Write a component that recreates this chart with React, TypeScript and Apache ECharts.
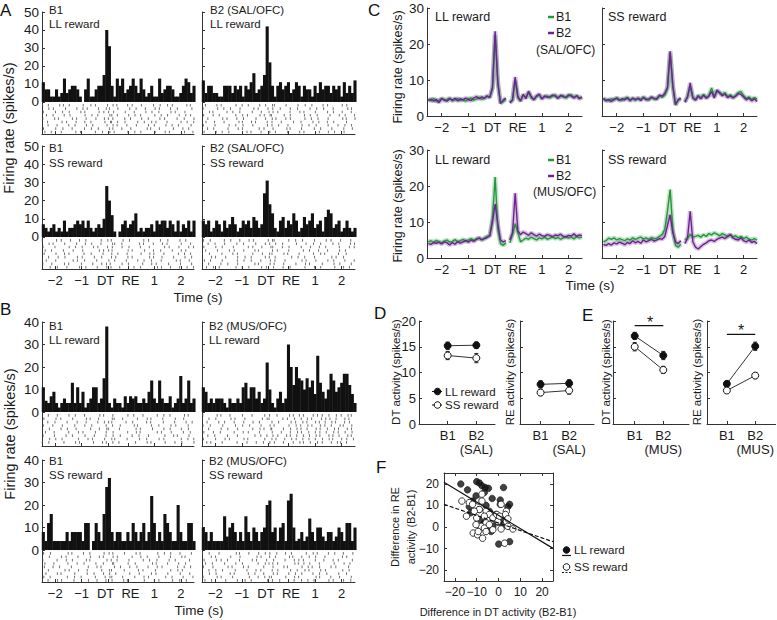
import React, { useEffect, useRef } from "react";
import * as echarts from "echarts";

const FONT = "'Liberation Sans', Arial, sans-serif";
const INK = "#1a1a1a";
const AXIS = "#333";
const GREEN = "#23963a";
const PURPLE = "#6a2390";

// ---- time axis (PSTH / population plots) ----
const timeTicks = [-2, -1, 0, 0.75, 1.75, 2.75];
const timeTickLabels = ["−2", "−1", "DT", "RE", "1", "2"];

// ---- histogram bins: 0.1 s, first bin centred at -2.45 ----
const histBinStart = -2.45;
const histBinWidth = 0.1;

const histA_B1_LL = [11,7,7,3,3,7,3,5,13,5,7,9,9,7,3,0,7,13,3,3,7,9,9,15,40,31,9,3,13,9,13,5,7,9,13,9,5,13,7,3,5,9,3,3,13,5,7,9,9,7,3,3,5,9,13,11,5,9];
const histA_B2_LL = [12,5,9,9,5,5,3,3,9,9,9,5,9,7,9,3,9,7,11,16,5,7,9,15,42,22,9,3,9,11,7,9,11,5,7,11,9,3,9,7,7,3,9,5,11,7,9,9,5,9,7,9,3,11,5,9,5,12];
const histA_B1_SS = [7,5,3,5,7,3,5,3,9,3,5,5,7,9,7,9,5,9,5,3,5,7,5,10,28,20,12,3,0,3,7,9,5,7,9,13,3,5,3,5,5,7,3,9,7,9,9,5,9,7,3,9,3,7,5,9,3,9];
const histA_B2_SS = [9,7,9,3,5,9,7,3,9,5,7,11,7,3,5,9,7,9,5,11,9,5,7,24,31,18,13,5,3,9,11,5,9,7,13,9,3,5,11,7,9,13,5,7,9,3,11,15,13,5,7,9,3,5,9,5,3,5];
const histB_B1_LL = [11,5,4,7,9,4,2,4,6,4,4,13,4,11,4,9,2,4,6,11,11,4,6,15,38,4,2,6,4,4,2,7,4,7,6,7,4,4,6,4,9,14,6,4,14,6,4,4,7,2,4,6,16,4,6,14,4,6];
const histB_B2_LL = [11,9,4,6,4,6,6,6,4,2,6,4,4,6,4,11,13,6,11,11,6,9,4,6,22,10,4,2,6,9,4,6,30,20,12,20,15,14,10,15,11,14,8,25,13,9,6,10,17,14,9,11,13,17,17,12,8,4];
const histB_B1_SS = [8,4,12,16,4,4,4,4,4,8,4,8,8,8,8,4,12,12,0,4,12,8,4,16,28,32,8,4,8,8,4,4,8,4,12,8,4,8,12,4,8,24,12,4,8,4,16,12,8,4,4,20,8,4,4,12,12,4];
const histB_B2_SS = [10,8,4,8,4,4,4,4,15,6,10,12,8,4,8,4,15,8,4,10,8,4,8,10,20,22,8,10,4,10,12,4,22,25,10,4,5,8,4,6,14,8,4,10,10,6,4,8,8,4,6,10,8,4,12,12,4,10];

// ---- rasters: one string per trial row, one char per 0.1 s bin starting at -2.5;
//      '.' = no spike, digit = spike offset inside the bin (hundredths of a second) ----
const rasterStart = -2.5;
const rasterA_B1_LL = [
  "2.4...7.1.3....6..5.2...8.9.3...4.1..6....2.7..5.3....8.1.",
  "..6.3...9....2.5.1...4..35..7....2.6...1..8.4...6..2....7.",
  "5....1.8..3...7.2....6.4.2.1...5..9....3.6..2...8.4...1..6",
  ".7..2...4.6.....3.9..1...74.5...8..2.3....7..1.5...9..4.2.",
  "3...8.2....5.1..7...4..6.18....3.5...7..2...6.4....1.8...5",
  "..1....6.3..9...2.5....8.93.6..4....2.7..5.1...3....6.9..4",
  "..3..7....1.5...8..2....6.9.4...1..7....3.5...9..2.6....4.",
  "6....2.9...4....1.7..3...58...2..6.....8.1..4....7...3.5..",
  ".1.5...3....8.6.....2.9..7.3....5..1.4....8...6.2....9...1",
];
const rasterA_B2_LL = [
  ".3...6.2....8..1.4...7.9..52...6....1.8..3...5.2....7.4..9",
  "4....9..2.7...3....5.1..8.6..4...2.9....6..1.7...3....8.2.",
  "..8.1....4.6..2...9...3..27.5....1..8.3...6....2.4..7...1.",
  "6...2.5.....7..3.1...8.4.61...9..2....5.7..3....1..6.8...3",
  "..2....8.4...1.6....3..9..48...5.2....7..1.6...4....9.2..5",
  ".5..7...3....9.2..6.1...5.3..8....4..2...7.9...1.5....3..6",
  "5...9.....2.7..4...1....6.3.8...3....6..2.9....4...1.7..2.",
  "..1.4....8...6.2.....5.3..7....9.1...4....2.6...8....3..5.",
  "8....3.6..1.....9.4...2..5.6....2...7.3.....1..5.8...4...6",
];
const rasterA_B1_SS = [
  "1....5.3..8...2.6.....4.9.2...7..1....5.3...8..6....2.4..7",
  "..7.2...6....1..4.8...3...75..2.....9.4...1..6.3....7...2.",
  "4...9.....3.7..2...5.1..8.6...3.9....2..6.....4.1..8...5.3",
  ".2.6....1..8...4.....7.3.25.....6.1...8...2.9....3..7.4...",
  "8....3..5.2....9..6....1..4.7...2....5..8.3...1....6.9..2.",
  "..5...1.7....4.2...8..6...39....5.1.....7.2..4...8....1.6.",
  ".6...2.....8.4..1...7....3.5...9....2.6..4...1....8.3..7..",
  "3..7....5.1...9....2..6.48....3.7.....1..5.2...9....4...6.",
  "...1.8...4....2.6...9...5.1..4....8..3.....7.2..6...1.9..3",
];
const rasterA_B2_SS = [
  "6..1....4.8...2..7.3....9.51....6..2.8....3...7.5...1..9..",
  "..3.9...5....1.6....2..8.4.7..3....5...1.9..6....2.4...8.3",
  "7....2.6...8.....4.1..5..96...2.7....3..8...1.5....6...4.2",
  ".4...8....3.1..7...9.2....5.3...6.....1.4..8...2...7.9....",
  "2.8....5...6.3.....1..7..43...8.2...5....9..6.1....3..2..7",
  "...6.1..9....4..2.5....8.3.5.....7..1.6...3.....8.4..2...9",
  "9..2...6.....3.8..5...1..7.4...2.....6.1..8....3.5...7...2",
  "..5....1.7...4.....9.2...6.1..7....3..9.4....2...6.8....1.",
  ".7..3.5.....8..1.6....4.2.9...5..1....7...3.6....9...2.4..",
];
const rasterB_B1_LL = [
  "..4..8....2.6...1....9.3..8.....5.7...2....6..1.4....9.3..",
  "7....3.1...6....8.2..4....63..5.....1..8.2...7....4..6....",
  "..2.9....5...3..7....1.6.24....8..3....6.1...9....2...5.8.",
  "5...1..7....4...2.8.....3.7..6....9.1....4..2...8.6....3..",
  "..8....2.6..9.....4..7..51...3.....6.2...8....1.5...7..4..",
  ".3..6.....1..8.5....2...3.9.....4..7.1.....6.2..9....5..1.",
  "4...7....1.5....3..8....2.9..6....1.7...3.....5..8.2...6..",
  "..9..2.6.....8...4.1...7..45....2...9..6....3.1.....7..2.4",
  "1.6.....3...7.2....5..9.3.8..1.....4...8.2....6...3.9....5",
];
const rasterB_B2_LL = [
  "3....7.1..5....2..8....6.4..2...9.3.6.1..8.4.2.7..5.3.9.1.",
  "..6..2....9.4...1.....7.52....4.1.8..3.6.2..9.5.1.4..7.2.6",
  ".9....3.5...1..7...2.6....3.8....5.2.9.4..7.1.3.8.2..6.4..",
  "4..1...8....6..3.9....2..6.1....7..4.1.8.3..5.2.6..9.1..3.",
  "..5....2.7...4.....1.8.3.92...6..3.7.2.5..9.4..1.8.3..6.2.",
  "7...3.9.....1..5.4...6....4..8...2.9.4..1.6.3.7..5.2.8..4.",
  "..2.8....6...3.....9..1.4.7.5..8.2.6..1.4.9.3..7.2.5..8.1.",
  "5....1..7.3....8.2.....6..38...1.7.4.9..2.6..3.8.1..5.4.9.",
  ".8.3...6.....2..9...4..1.5.2..6...3.8.1.7..4.2..6.9.1.3..7",
];
const rasterB_B1_SS = [
  "6..2.....9.3...7..1....5.48....2...6.1.....8..3.7...2...5.",
  "..8....4.1...6....3..7.2..9.5.....1..4.8....2...6...9.1...",
  "3....7...2.5....8.1.....6.2.4...9.....3.7..5....1.4....8..",
  ".1..5....8...3.9....4..2..71....6..3.....8.2...5...7..3..6",
  "9...2.6....1.....5..8.3....4.7...2.9....1..6.4.....3.8..2.",
  "..4.....7.3..8...1....6..53....1....5.2...9.....7..4.1...8",
  ".5...8.2....4....1.7...3.6.9.....2..8....4.1...6....3..9..",
  "7..1.....6..3.8.....2..9.74...5....1..6.3.....8..2...4...1",
  "..3..9.4....1....6..8...2.5...9.3.....7...5.2....4..1.6...",
];
const rasterB_B2_SS = [
  "2.7...4.....9.1..6...3.8.5..1..4.6.....2.8.3...5.9...1..7.",
  "...5.1....8...3.....7.2..4.6....9.1..5..3.7...2.....8.4..6",
  "8....4.2.6....1...9.5...3.9....2..7.4.1...6..8...3.2....5.",
  ".3.9....5...7..2.....1.8.26.4.....9.2.3.5...1....7...4.6..",
  "5...1....8.3...6.4.....2..7...8.1....6.9.4..2...5.3....1.8",
  "..6..2.7....5...9...3.1...4.5....3.8..7.2...6.4.....9..3..",
  "..8..3....6.1....4.9...2..8.3...6..1.5...7..2.9....4..3..6",
  "4....7.2...5.....8...1.6.31....5..8.3.....9.2...4..7....1.",
  ".1.6....9....3..2.5.....7.5..2....6..4.8..1....7.3...2.9..",
];

// ---- panel C: population firing rate, 0.1 s steps; DT epoch from -2.5, RE epoch from 0.55 ----
const cDtStart = -2.5;
const cReStart = 0.55;
const cStep = 0.1;
const cSal_LL_B1_dt = [4.6,4.2,4.9,4.0,4.4,4.8,4.3,4.6,5.0,4.2,4.5,4.9,4.3,4.6,4.1,4.8,5.0,4.4,4.7,5.2,4.6,5.0,5.4,5.1,7.5,22.5,9.0,3.6,4.0,4.6];
const cSal_LL_B2_dt = [4.3,4.7,4.1,4.6,3.7,4.9,4.5,4.1,4.8,4.4,4.9,4.2,4.8,4.4,5.0,4.5,4.3,5.0,5.4,4.8,5.3,4.9,5.6,5.2,8.0,23.5,9.5,3.5,4.4,5.0];
const cSal_LL_B1_re = [3.8,4.6,9.8,5.0,4.3,5.8,5.2,6.5,5.0,4.7,5.4,5.8,4.9,5.3,5.6,5.0,5.5,5.9,5.1,5.4,5.7,5.0,5.6,5.9,5.2,5.5,5.0,5.4];
const cSal_LL_B2_re = [3.6,4.4,10.8,5.5,4.1,6.0,4.8,6.9,5.4,4.5,5.6,6.1,4.7,5.6,5.2,5.4,5.8,5.5,4.9,5.8,5.3,5.2,5.9,5.5,5.0,5.7,4.8,5.2];
const cSal_SS_B1_dt = [5.0,4.5,4.2,4.8,4.4,5.1,4.6,4.3,4.9,5.2,4.5,4.8,4.3,5.0,4.6,5.3,4.8,4.4,5.1,4.7,5.0,5.5,5.2,5.8,7.5,17.5,8.0,3.0,4.5,4.8];
const cSal_SS_B2_dt = [4.8,4.2,4.6,4.0,4.7,4.9,4.3,4.8,4.5,5.0,4.2,5.0,4.6,4.9,4.3,5.1,4.5,4.7,5.3,4.9,4.6,5.8,5.5,6.3,8.0,18.0,8.5,3.2,4.4,5.0];
const cSal_SS_B1_re = [4.0,5.5,8.0,5.2,4.6,5.8,5.0,6.0,5.2,5.7,7.8,5.4,6.8,6.6,6.0,6.5,5.4,5.9,5.2,5.7,6.5,6.8,5.6,4.9,5.3,4.6,5.1,4.7];
const cSal_SS_B2_re = [3.8,5.2,9.2,5.0,4.4,5.5,4.8,5.8,4.9,5.5,6.8,5.0,7.2,6.4,5.6,6.1,5.1,5.6,5.0,5.5,6.2,6.0,5.3,4.5,5.0,4.2,4.8,4.0];
const cMus_LL_B1_dt = [4.5,4.8,4.3,4.9,4.5,4.2,4.7,5.0,4.4,4.6,5.1,4.5,4.8,5.2,4.6,5.0,5.4,4.9,5.3,5.6,5.1,5.5,6.0,6.3,11.0,22.5,8.0,4.0,3.5,4.2];
const cMus_LL_B2_dt = [4.0,3.8,4.3,4.1,4.4,3.9,4.5,4.2,3.6,4.3,3.8,4.6,4.1,4.5,4.9,4.4,5.0,4.6,5.2,5.5,5.0,5.4,5.7,6.2,10.0,15.0,9.5,5.0,4.5,4.8];
const cMus_LL_B1_re = [4.2,6.5,9.5,7.0,4.5,5.0,5.5,5.2,5.8,5.4,5.0,5.6,5.3,5.8,5.2,5.5,5.9,5.4,5.7,5.2,5.6,6.0,5.5,5.8,5.3,6.0,5.6,5.8];
const cMus_LL_B2_re = [5.0,7.0,18.0,7.5,6.5,7.2,6.8,6.3,7.0,6.5,6.1,6.6,6.2,6.0,6.5,6.3,5.9,6.4,6.2,6.6,6.0,5.8,6.3,6.1,6.7,6.0,6.4,6.2];
const cMus_SS_B1_dt = [4.5,4.8,5.5,5.2,5.6,5.0,5.4,5.1,4.8,5.3,5.0,5.6,5.2,5.5,5.8,5.3,5.6,5.2,5.7,5.4,5.5,6.0,6.5,8.0,13.0,19.0,8.0,3.5,3.0,3.8];
const cMus_SS_B2_dt = [3.8,3.5,4.0,3.6,4.2,3.9,4.4,4.1,3.7,4.3,4.0,4.8,4.2,4.6,4.1,5.0,4.5,4.8,5.2,4.7,5.0,5.4,5.2,6.0,9.0,12.0,7.0,4.5,4.0,4.8];
const cMus_SS_B1_re = [5.0,5.5,6.5,5.8,6.0,6.3,5.8,6.5,6.0,6.8,6.4,7.0,6.6,6.2,6.8,6.4,6.0,6.5,5.8,6.2,5.6,6.0,5.4,5.8,5.2,5.0,5.4,5.0];
const cMus_SS_B2_re = [4.0,5.5,13.0,4.5,3.0,2.5,3.2,3.8,4.2,4.8,5.0,4.6,5.2,5.5,5.8,5.4,6.0,6.5,5.6,5.2,5.0,5.6,4.8,4.5,5.0,4.3,4.6,4.0];

// ---- panels D / E: mean ± SEM (B1, B2) ----
const blockX = [1, 2];
const dDT_LL = [15.2, 15.3], dDT_LL_err = [0.7, 0.6];
const dDT_SS = [13.3, 12.8], dDT_SS_err = [0.8, 0.9];
const dRE_LL = [7.7, 7.9], dRE_LL_err = [0.7, 0.7];
const dRE_SS = [6.1, 6.5], dRE_SS_err = [0.6, 0.7];
const eDT_LL = [17.1, 13.3], eDT_LL_err = [0.7, 0.8];
const eDT_SS = [15.0, 10.5], eDT_SS_err = [0.8, 0.7];
const eRE_LL = [7.8, 15.1], eRE_LL_err = [0.5, 0.8];
const eRE_SS = [6.5, 9.4], eRE_SS_err = [0.5, 0.6];
const eDT_sig = [[1, 19.1], [2, 19.1]];
const eRE_sig = [[1, 17.4], [2, 17.4]];

// ---- panel F: per-neuron differences (DT, RE) ----
const fLL = [[-17.3,19.9],[-14.2,17.2],[-10,21],[-8.8,20.4],[-7.6,19.1],[-6.1,18.3],[-4.6,17.9],[2.3,18.3],[-10.3,14.4],[-2.9,13.2],[0.8,12.5],[0.8,10.5],[5.1,10.5],[4.3,9.4],[-13.4,9.4],[-12.7,6.6],[-5.7,10],[-4.2,7.3],[-8,3.4],[-6.5,1.9],[-1.4,3.4],[-2.6,0.3],[2,3.8],[2,1.1],[-3.4,-2.1],[-5.1,-0.9],[0.1,-7.9],[5.1,-6.8],[-11.9,12],[-6.5,16],[-1.1,5.8],[-0.3,2.2],[-8.8,8.1]];
const fSS = [[-16.8,12],[-13.4,11.3],[-14.7,5],[-11.9,10.5],[-9.1,12],[-7.6,15.2],[-7.6,12],[-8.8,8.1],[-11.1,7.3],[-10,4.2],[-5.7,7.3],[-4.2,5.8],[1.2,10.5],[3.6,7.3],[3.2,5.8],[-2.6,4.2],[-0.3,2.6],[3.6,2.6],[4.3,0.3],[6.6,-0.9],[-5.7,1.9],[-8,0.3],[-6.5,-0.5],[-4.2,1.1],[-2.6,-1.3],[1.2,-0.9],[-11.6,-2.8],[-9.6,-3.6],[-7.3,-5.2],[-9.3,-2.1],[2.8,-7.5],[-5.7,-2.1],[-0.8,5.8],[-6.5,5],[-10.3,1.1],[0.5,5],[4.3,3.8]];
const fFitLL = [[-25, 20.7], [25, -9.9]];
const fFitSS = [[-25, 10.5], [25, -6.8]];
const fTicks = [-20, -10, 0, 10, 20];

const labelOf = (v: number) => {
  const i = timeTicks.findIndex((t) => Math.abs(t - v) < 1e-6);
  if (i < 0) return "";
  const s = timeTickLabels[i];
  if (s === "DT") return "{dt|DT}";
  if (s === "RE") return "{re|RE}";
  return s;
};

function buildOption() {
  const grid: any[] = [];
  const xAxis: any[] = [];
  const yAxis: any[] = [];
  const series: any[] = [];
  const graphic: any[] = [];

  const text = (t: string, x: number, y: number, size: number, opts: any = {}) => {
    graphic.push({
      type: "text",
      x,
      y,
      rotation: opts.rotate ? Math.PI / 2 : 0,
      z: 100,
      style: {
        text: t,
        fill: opts.fill || INK,
        font: `${opts.weight || "normal"} ${size}px ${FONT}`,
        align: opts.align || "left",
        verticalAlign: "middle",
        textAlign: opts.align || "left",
        textVerticalAlign: "middle",
        lineHeight: opts.lineHeight || size + 2,
      },
    });
  };
  const seg = (x1: number, y1: number, x2: number, y2: number, color: string, w: number, dash?: number[]) => {
    graphic.push({ type: "line", z: 100, shape: { x1, y1, x2, y2 }, style: { stroke: color, lineWidth: w, lineDash: dash } });
  };
  const dot = (cx: number, cy: number, r: number, filled: boolean) => {
    graphic.push({ type: "circle", z: 101, shape: { cx, cy, r }, style: { fill: filled ? "#111" : "#fff", stroke: "#111", lineWidth: 1 } });
  };

  const axisLine = { show: true, onZero: false, lineStyle: { color: AXIS, width: 1 } };

  const addGrid = (left: number, top: number, width: number, height: number) => {
    grid.push({ left, top, width, height, containLabel: false });
    return grid.length - 1;
  };
  const addTimeX = (gi: number, min: number, max: number, labels: boolean) => {
    const rs = { fontSize: 13, fontFamily: FONT, color: INK };
    xAxis.push({
      type: "value", gridIndex: gi, min, max,
      axisLine,
      axisTick: { show: true, inside: true, length: 3, customValues: timeTicks, lineStyle: { color: AXIS } },
      axisLabel: {
        show: labels, customValues: timeTicks, formatter: (v: number) => labelOf(v),
        color: INK, fontSize: 13, fontFamily: FONT, margin: 5, hideOverlap: false,
        rich: { dt: { ...rs, padding: [0, 5, 0, 0] }, re: { ...rs, padding: [0, 0, 0, 5] } },
      },
      splitLine: { show: false },
    });
    return xAxis.length - 1;
  };
  const addY = (gi: number, min: number, max: number, ticks: number[], labels: boolean, size = 13.5) => {
    yAxis.push({
      type: "value", gridIndex: gi, min, max,
      axisLine,
      axisTick: { show: true, inside: true, length: 3, customValues: ticks, lineStyle: { color: AXIS } },
      axisLabel: { show: labels, customValues: ticks, color: INK, fontSize: size, fontFamily: FONT, margin: 3, hideOverlap: false },
      splitLine: { show: false },
    });
    return yAxis.length - 1;
  };

  // ---------- Panels A and B ----------
  const aTicks = [0, 10, 20, 30, 40, 50];
  const bTicks = [0, 10, 20, 30, 40];
  const psth = [
    { l: 42, t: 12, w: 152, h: 122, ymin: -17.8, ymax: 50, ticks: aTicks, ylab: true, xlab: false, hist: histA_B1_LL, raster: rasterA_B1_LL, step: 1.85 },
    { l: 202, t: 12, w: 153, h: 122, ymin: -17.8, ymax: 50, ticks: aTicks, ylab: false, xlab: false, hist: histA_B2_LL, raster: rasterA_B2_LL, step: 1.85 },
    { l: 42, t: 146, w: 152, h: 123, ymin: -17.6, ymax: 50, ticks: aTicks, ylab: true, xlab: true, hist: histA_B1_SS, raster: rasterA_B1_SS, step: 1.85 },
    { l: 202, t: 146, w: 153, h: 123, ymin: -17.6, ymax: 50, ticks: aTicks, ylab: false, xlab: true, hist: histA_B2_SS, raster: rasterA_B2_SS, step: 1.85 },
    { l: 42, t: 322, w: 152, h: 124, ymin: -15.1, ymax: 40, ticks: bTicks, ylab: true, xlab: false, hist: histB_B1_LL, raster: rasterB_B1_LL, step: 1.5 },
    { l: 202, t: 322, w: 153, h: 124, ymin: -15.1, ymax: 40, ticks: bTicks, ylab: false, xlab: false, hist: histB_B2_LL, raster: rasterB_B2_LL, step: 1.5 },
    { l: 42, t: 460, w: 152, h: 122, ymin: -14.2, ymax: 40, ticks: bTicks, ylab: true, xlab: true, hist: histB_B1_SS, raster: rasterB_B1_SS, step: 1.5 },
    { l: 202, t: 460, w: 153, h: 122, ymin: -14.2, ymax: 40, ticks: bTicks, ylab: false, xlab: true, hist: histB_B2_SS, raster: rasterB_B2_SS, step: 1.5 },
  ];
  psth.forEach((p) => {
    const gi = addGrid(p.l, p.t, p.w, p.h);
    const xi = addTimeX(gi, -2.5, 3.25, p.xlab);
    const yi = addY(gi, p.ymin, p.ymax, p.ticks, p.ylab);
    series.push({
      type: "bar", xAxisIndex: xi, yAxisIndex: yi, silent: true,
      barWidth: 3.1,
      itemStyle: { color: "#111" },
      data: p.hist.map((v, i) => [+(histBinStart + i * histBinWidth).toFixed(3), v]),
    });
    const pts: number[][] = [];
    p.raster.forEach((row, r) => {
      for (let i = 0; i < row.length; i++) {
        const c = row[i];
        if (c !== ".") pts.push([rasterStart + i * 0.1 + Number(c) * 0.01, -(r + 1) * p.step]);
      }
    });
    series.push({
      type: "scatter", xAxisIndex: xi, yAxisIndex: yi, silent: true,
      symbol: "rect", symbolSize: [1, 2.6],
      itemStyle: { color: "#4d4d4d" },
      data: pts,
    });
  });

  // inner labels A/B
  const lab = 11.5;
  text("B1", 49, 9.5, lab); text("LL reward", 49, 24, lab);
  text("B2 (SAL/OFC)", 210, 9.5, lab); text("LL reward", 210, 24, lab);
  text("B1", 49, 148, lab); text("SS reward", 49, 163, lab);
  text("B2 (SAL/OFC)", 210, 148, lab); text("SS reward", 210, 163, lab);
  text("B1", 49, 326, lab); text("LL reward", 49, 340, lab);
  text("B2 (MUS/OFC)", 209, 326, lab); text("LL reward", 209, 340, lab);
  text("B1", 49, 461, lab); text("SS reward", 49, 475, lab);
  text("B2 (MUS/OFC)", 209, 461, lab); text("SS reward", 209, 475, lab);
  text("Firing rate (spikes/s)", 9, 128, 14.5, { rotate: true, align: "center" });
  text("Firing rate (spikes/s)", 10, 434, 14.5, { rotate: true, align: "center" });
  text("Time (s)", 198, 297, 13.5, { align: "center" });
  text("Time (s)", 199, 610, 13.5, { align: "center" });

  // ---------- Panel C ----------
  const cTicks = [0, 10, 20, 30];
  const cPanels = [
    { l: 427, t: 8, ylab: true, g: [cSal_LL_B1_dt, cSal_LL_B1_re], p: [cSal_LL_B2_dt, cSal_LL_B2_re] },
    { l: 602, t: 8, ylab: false, g: [cSal_SS_B1_dt, cSal_SS_B1_re], p: [cSal_SS_B2_dt, cSal_SS_B2_re] },
    { l: 427, t: 150, ylab: true, g: [cMus_LL_B1_dt, cMus_LL_B1_re], p: [cMus_LL_B2_dt, cMus_LL_B2_re] },
    { l: 602, t: 150, ylab: false, g: [cMus_SS_B1_dt, cMus_SS_B1_re], p: [cMus_SS_B2_dt, cMus_SS_B2_re] },
  ];
  cPanels.forEach((c) => {
    const gi = addGrid(c.l, c.t, 155, 108);
    const xi = addTimeX(gi, -2.55, 3.25, true);
    const yi = addY(gi, 0, 30, cTicks, c.ylab);
    const mk = (vals: number[], start: number) => vals.map((v, i) => [+(start + i * cStep).toFixed(3), v]);
    const draw = (arr: number[][], color: string, width: number, opacity: number, z: number) => {
      [mk(arr[0], cDtStart), mk(arr[1], cReStart)].forEach((d) => {
        series.push({ type: "line", xAxisIndex: xi, yAxisIndex: yi, silent: true, showSymbol: false, symbol: "none", z, data: d, lineStyle: { color, width, opacity } });
      });
    };
    draw(c.g, GREEN, 4.5, 0.28, 1);
    draw(c.p, PURPLE, 4.5, 0.28, 1);
    draw(c.g, GREEN, 1.4, 1, 3);
    draw(c.p, PURPLE, 1.4, 1, 3);
  });
  const cl = 12.5;
  text("LL reward", 435, 17, cl); text("SS reward", 608, 17, cl);
  text("LL reward", 435, 160, cl); text("SS reward", 608, 160, cl);
  seg(548, 17, 554, 17, GREEN, 2.5); text("B1", 556, 17, cl);
  seg(548, 33, 554, 33, PURPLE, 2.5); text("B2", 556, 33, cl);
  text("(SAL/OFC)", 536, 50, 12);
  seg(548, 160, 554, 160, GREEN, 2.5); text("B1", 556, 160, cl);
  seg(548, 176, 554, 176, PURPLE, 2.5); text("B2", 556, 176, cl);
  text("(MUS/OFC)", 533, 192, 12);
  text("Firing rate (spikes/s)", 398, 67, 12.5, { rotate: true, align: "center" });
  text("Firing rate (spikes/s)", 398, 206, 12.5, { rotate: true, align: "center" });
  text("Time (s)", 590, 285, 13.5, { align: "center" });

  // ---------- Panels D and E ----------
  const deTicks = [0, 5, 10, 15, 20];
  const errSeries = (xi: number, yi: number, vals: number[], errs: number[]) => ({
    type: "custom", xAxisIndex: xi, yAxisIndex: yi, silent: true, z: 2,
    encode: { x: 0, y: 1 },
    data: blockX.map((x, i) => [x, vals[i], errs[i]]),
    renderItem: (_p: any, api: any) => {
      const x = api.value(0), y = api.value(1), e = api.value(2);
      const lo = api.coord([x, y - e]);
      const hi = api.coord([x, y + e]);
      const st = { stroke: "#222", lineWidth: 1 };
      return {
        type: "group",
        children: [
          { type: "line", shape: { x1: lo[0], y1: lo[1], x2: hi[0], y2: hi[1] }, style: st },
          { type: "line", shape: { x1: lo[0] - 2, y1: lo[1], x2: lo[0] + 2, y2: lo[1] }, style: st },
          { type: "line", shape: { x1: hi[0] - 2, y1: hi[1], x2: hi[0] + 2, y2: hi[1] }, style: st },
        ],
      };
    },
  });
  const dePanels = [
    { l: 419, w: 76, min: 0, max: 2.65, ylab: true, tag: "(SAL)", ll: dDT_LL, lle: dDT_LL_err, ss: dDT_SS, sse: dDT_SS_err, sig: null },
    { l: 520, w: 74, min: 0.28, max: 2.87, ylab: false, tag: "(SAL)", ll: dRE_LL, lle: dRE_LL_err, ss: dRE_SS, sse: dRE_SS_err, sig: null },
    { l: 613, w: 76, min: 0.24, max: 2.9, ylab: false, tag: "(MUS)", ll: eDT_LL, lle: eDT_LL_err, ss: eDT_SS, sse: eDT_SS_err, sig: eDT_sig },
    { l: 707, w: 69, min: 0.3, max: 2.72, ylab: false, tag: "(MUS)", ll: eRE_LL, lle: eRE_LL_err, ss: eRE_SS, sse: eRE_SS_err, sig: eRE_sig },
  ];
  dePanels.forEach((d) => {
    const gi = addGrid(d.l, 321, d.w, 103);
    xAxis.push({
      type: "value", gridIndex: gi, min: d.min, max: d.max,
      axisLine,
      axisTick: { show: true, inside: true, length: 3, customValues: blockX, lineStyle: { color: AXIS } },
      axisLabel: {
        show: true, customValues: blockX, color: INK, fontSize: 13, fontFamily: FONT, margin: 4, lineHeight: 14,
        hideOverlap: false, verticalAlign: "top",
        formatter: (v: number) => (v === 1 ? "B1" : "B2\n" + d.tag),
      },
      splitLine: { show: false },
    });
    const xi = xAxis.length - 1;
    const yi = addY(gi, 0, 20, deTicks, d.ylab, 13);
    series.push(errSeries(xi, yi, d.ll, d.lle));
    series.push(errSeries(xi, yi, d.ss, d.sse));
    series.push({
      type: "line", xAxisIndex: xi, yAxisIndex: yi, silent: true, z: 3,
      symbol: "circle", symbolSize: 7,
      data: blockX.map((x, i) => [x, d.ll[i]]),
      lineStyle: { color: "#333", width: 1 },
      itemStyle: { color: "#111", borderColor: "#111", borderWidth: 1 },
    });
    series.push({
      type: "line", xAxisIndex: xi, yAxisIndex: yi, silent: true, z: 3,
      symbol: "circle", symbolSize: 7,
      data: blockX.map((x, i) => [x, d.ss[i]]),
      lineStyle: { color: "#333", width: 1 },
      itemStyle: { color: "#fff", borderColor: "#111", borderWidth: 1 },
    });
    if (d.sig) {
      series.push({
        type: "line", xAxisIndex: xi, yAxisIndex: yi, silent: true, symbol: "none",
        data: d.sig, lineStyle: { color: "#111", width: 1.2 },
      });
    }
  });
  text("*", 650, 322, 16, { align: "center" });
  text("*", 741, 330, 16, { align: "center" });
  text("DT activity (spikes/s)", 396, 372, 11.5, { rotate: true, align: "center" });
  text("RE activity (spikes/s)", 510, 372, 11.5, { rotate: true, align: "center" });
  text("DT activity (spikes/s)", 606, 372, 11.5, { rotate: true, align: "center" });
  text("RE activity (spikes/s)", 697, 372, 11.5, { rotate: true, align: "center" });
  seg(432, 391.5, 442, 391.5, "#111", 1); dot(437.5, 391.5, 3.3, true); text("LL reward", 445, 391.5, 11.5);
  seg(432, 405, 442, 405, "#111", 1); dot(437.5, 405, 3.3, false); text("SS reward", 445, 405, 11.5);

  // ---------- Panel F ----------
  const gF = addGrid(444, 473, 109, 108);
  const fAxisCommon = (labels: boolean) => ({
    axisLine,
    axisTick: { show: true, inside: true, length: 3, customValues: fTicks, lineStyle: { color: AXIS } },
    axisLabel: {
      show: labels, customValues: fTicks, color: INK, fontSize: 12, fontFamily: FONT, margin: 5, hideOverlap: false,
      formatter: (v: number) => (v < 0 ? "−" + Math.abs(v) : String(v)),
    },
    splitLine: { show: false },
  });
  xAxis.push({ type: "value", gridIndex: gF, min: -25, max: 25, position: "bottom", ...fAxisCommon(true) });
  const fx = xAxis.length - 1;
  xAxis.push({ type: "value", gridIndex: gF, min: -25, max: 25, position: "top", ...fAxisCommon(false) });
  yAxis.push({ type: "value", gridIndex: gF, min: -25, max: 25, position: "left", ...fAxisCommon(true) });
  const fy = yAxis.length - 1;
  yAxis.push({ type: "value", gridIndex: gF, min: -25, max: 25, position: "right", ...fAxisCommon(false) });
  series.push({ type: "scatter", xAxisIndex: fx, yAxisIndex: fy, silent: true, symbolSize: 6.5, z: 2, data: fLL, itemStyle: { color: "#111", borderColor: "#111", borderWidth: 0.8 } });
  series.push({ type: "scatter", xAxisIndex: fx, yAxisIndex: fy, silent: true, symbolSize: 6.5, z: 3, data: fSS, itemStyle: { color: "#fff", borderColor: "#222", borderWidth: 0.9, opacity: 1 } });
  series.push({ type: "line", xAxisIndex: fx, yAxisIndex: fy, silent: true, symbol: "none", z: 4, data: fFitLL, lineStyle: { color: "#111", width: 1.2 } });
  series.push({ type: "line", xAxisIndex: fx, yAxisIndex: fy, silent: true, symbol: "none", z: 4, data: fFitSS, lineStyle: { color: "#111", width: 1.2, type: [4, 2] } });
  text("Difference in RE\nactivity (B2-B1)", 403, 527, 11, { rotate: true, align: "center", lineHeight: 16 });
  text("Difference in DT activity (B2-B1)", 498, 611.5, 11, { align: "center" });
  dot(566.5, 550, 3.3, true); seg(562, 555.5, 571, 555.5, "#111", 1.2); text("LL reward", 574, 550, 11.5);
  dot(566.5, 567, 3.3, false); seg(562, 572.5, 571, 572.5, "#111", 1.2, [2, 1.5]); text("SS reward", 574, 567, 11.5);

  // ---------- panel letters ----------
  text("A", 0, 10, 17, { fill: "#111" });
  text("B", 0, 309, 17, { fill: "#111" });
  text("C", 368, 10, 17, { fill: "#111" });
  text("D", 374, 313, 17, { fill: "#111" });
  text("E", 582, 315, 17, { fill: "#111" });
  text("F", 376, 467, 17, { fill: "#111" });

  return {
    animation: false,
    backgroundColor: "#fff",
    textStyle: { fontFamily: FONT },
    grid,
    xAxis,
    yAxis,
    series,
    graphic: { elements: graphic },
  };
}

export default function App() {
  const ref = useRef<HTMLDivElement>(null);
  useEffect(() => {
    if (!ref.current) return;
    const chart = echarts.init(ref.current, null, { renderer: "svg" });
    chart.setOption(buildOption());
    return () => chart.dispose();
  }, []);
  return (
    <div
      ref={ref}
      style={{ position: "absolute", left: 0, top: 0, width: 777, height: 620, background: "#fff" }}
    />
  );
}
